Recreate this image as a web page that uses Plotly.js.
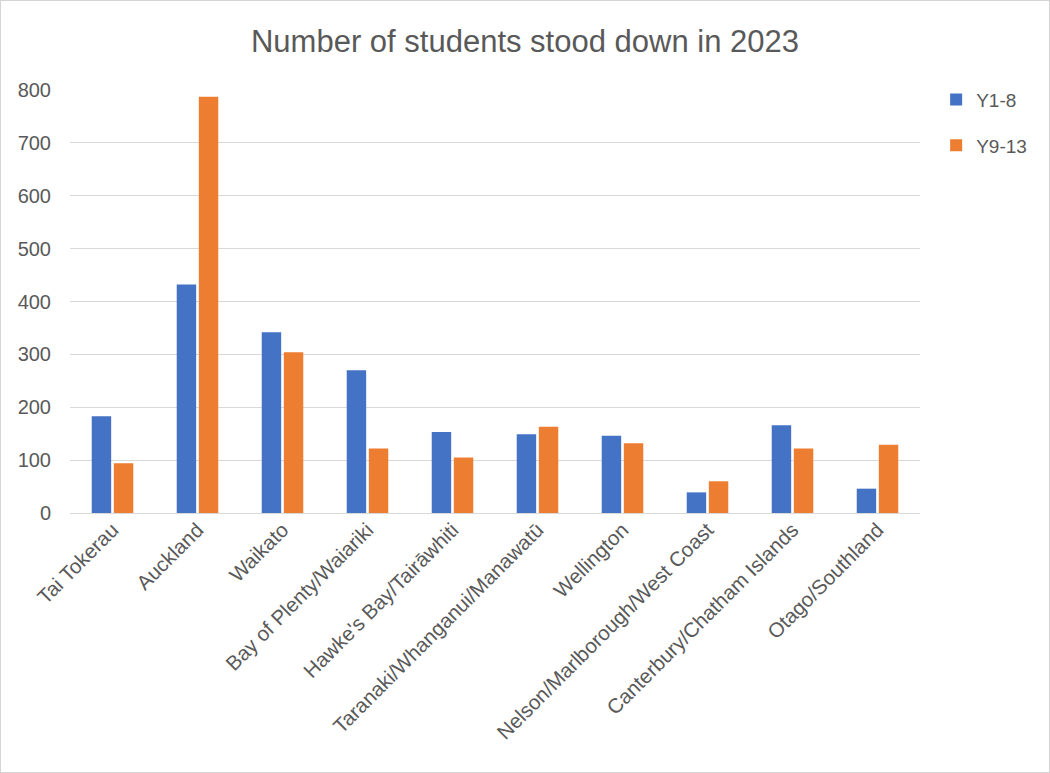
<!DOCTYPE html>
<html>
<head>
<meta charset="utf-8">
<script src="https://cdn.plot.ly/plotly-3.0.1.min.js"></script>
<style>
html,body{margin:0;padding:0;background:#fff;}
#wrap{width:1048px;height:771px;border:1px solid #d4d4d4;}
#chart{width:1048px;height:771px;}
</style>
</head>
<body>
<div id="wrap"><div id="chart"></div></div>
<script>
const regions = ["Tai Tokerau","Auckland","Waikato","Bay of Plenty/Waiariki","Hawke's Bay/Tairāwhiti","Taranaki/Whanganui/Manawatū","Wellington","Nelson/Marlborough/West Coast","Canterbury/Chatham Islands","Otago/Southland"];
const y1to8 = [183, 432, 342, 270, 153, 149, 146, 39, 166, 46];
const y9to13 = [94, 787, 304, 122, 105, 163, 132, 60, 122, 129];
const seriesNames = ["Y1-8", "Y9-13"];
const yTicks = [0, 100, 200, 300, 400, 500, 600, 700, 800];

const fontFam = "Liberation Sans, Arial, sans-serif";
const traces = [
  {type:"bar", x:regions, y:y1to8, name:seriesNames[0], legendgroup:"a", marker:{color:"#4472C4"}},
  {type:"bar", x:regions, y:y9to13, name:seriesNames[1], legendgroup:"b", marker:{color:"#ED7D31"}}
];
const layout = {
  width:1048, height:771,
  paper_bgcolor:"#fff", plot_bgcolor:"#fff",
  margin:{l:69, r:129, t:89, b:259},
  barmode:"group", bargap:0.48, bargroupgap:0.12,
  title:{text:"Number of students stood down in 2023", font:{family:fontFam, size:31, color:"#595959"}, x:0.5, xanchor:"center", xref:"container", y:1-40/771, yref:"container", yanchor:"middle"},
  font:{family:fontFam, color:"#595959"},
  xaxis:{tickangle:-45, tickfont:{size:20.5, color:"#595959"}, showgrid:false, showline:false, ticks:"", automargin:false},
  yaxis:{range:[0,800], tickvals:yTicks, tickfont:{size:20, color:"#595959"}, gridcolor:"#d9d9d9", gridwidth:1, zeroline:true, zerolinecolor:"#d9d9d9", zerolinewidth:1, showline:false, ticks:"", automargin:false, ticklabelstandoff:18},
  legend:{x:1.019, xanchor:"left", y:1.022, yanchor:"top", font:{size:19, color:"#595959"}, tracegroupgap:18, itemwidth:30, traceorder:"grouped"},
  showlegend:true
};
Plotly.newPlot("chart", traces, layout, {displayModeBar:false, staticPlot:true});
</script>
</body>
</html>
